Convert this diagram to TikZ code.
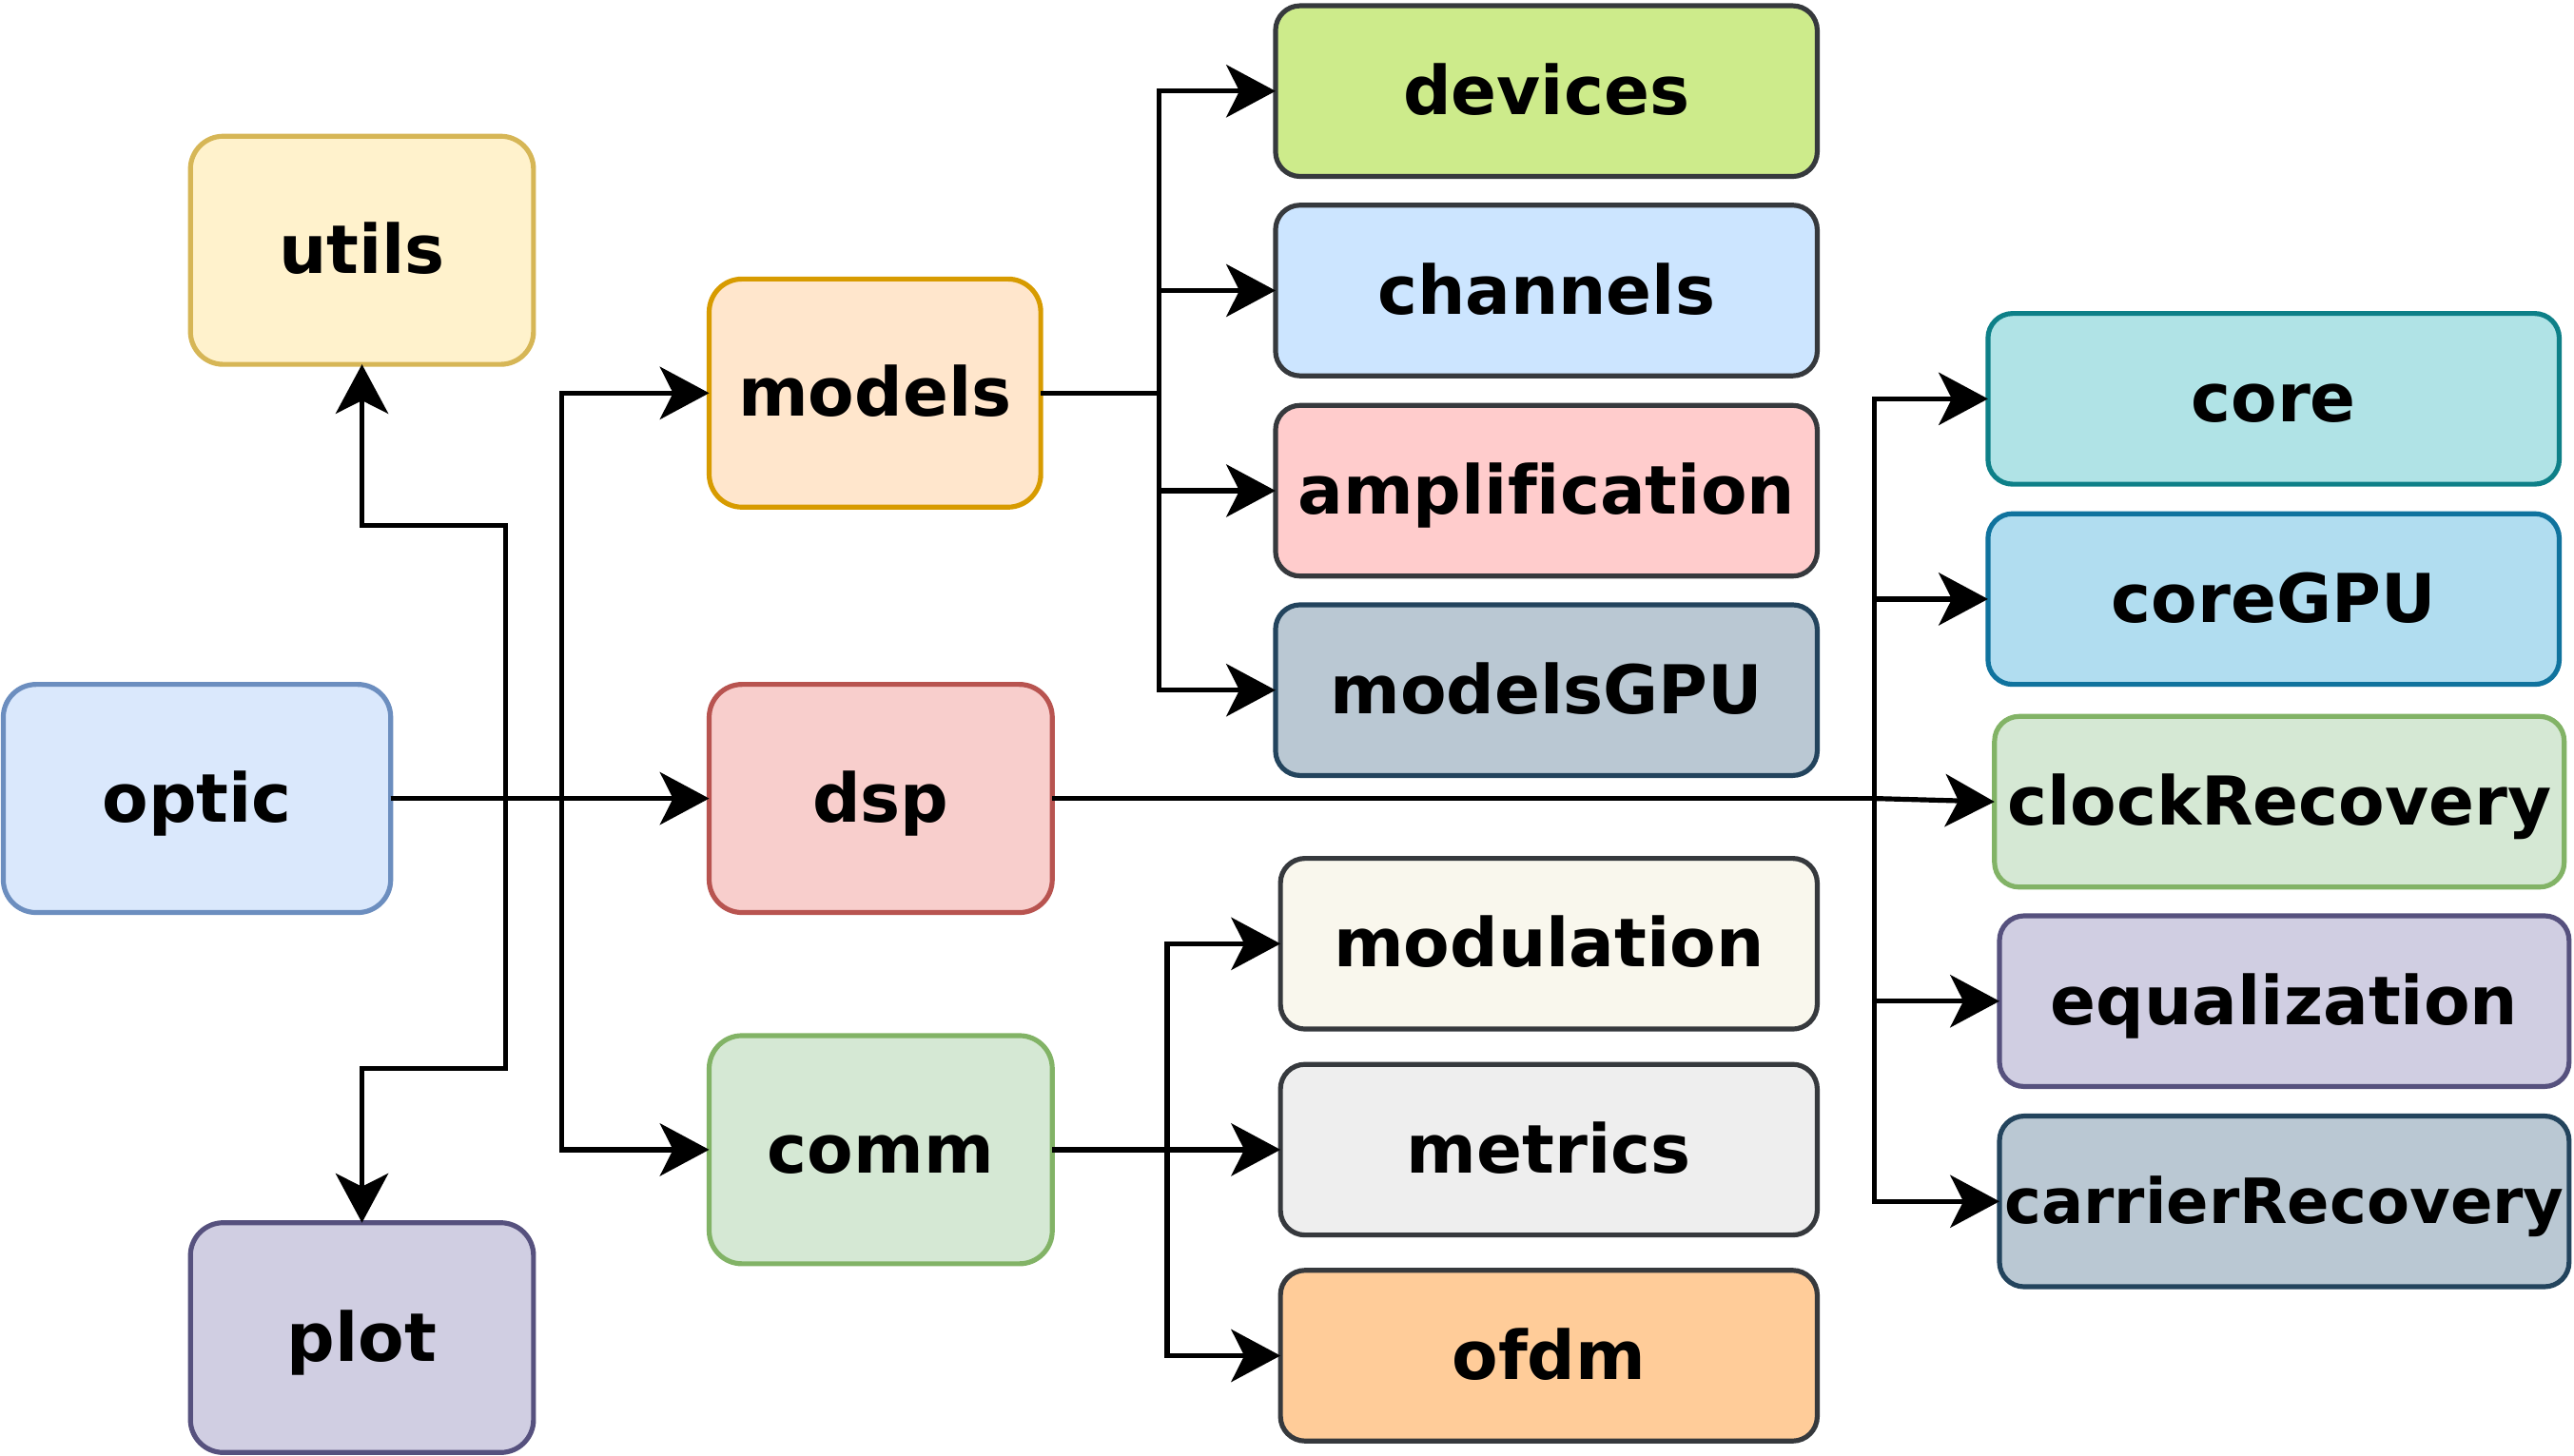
\documentclass[tikz,border=0pt]{standalone}
\usepackage{fontspec}
\setmainfont[Ligatures=NoCommon]{DejaVu Sans}
\usetikzlibrary{arrows.meta}
\definecolor{utF}{HTML}{FFF2CC}\definecolor{utS}{HTML}{D6B656}
\definecolor{opF}{HTML}{DAE8FC}\definecolor{opS}{HTML}{6C8EBF}
\definecolor{plF}{HTML}{D0CEE2}\definecolor{plS}{HTML}{56517E}
\definecolor{moF}{HTML}{FFE6CC}\definecolor{moS}{HTML}{D79B00}
\definecolor{dsF}{HTML}{F8CECC}\definecolor{dsS}{HTML}{B85450}
\definecolor{coF}{HTML}{D5E8D4}\definecolor{coS}{HTML}{82B366}
\definecolor{dkS}{HTML}{36393D}
\definecolor{dvF}{HTML}{CDEB8B}
\definecolor{chF}{HTML}{CCE5FF}
\definecolor{amF}{HTML}{FFCCCC}
\definecolor{gpF}{HTML}{BAC8D3}\definecolor{gpS}{HTML}{23445D}
\definecolor{mdF}{HTML}{F9F7ED}
\definecolor{mtF}{HTML}{EEEEEE}
\definecolor{ofF}{HTML}{FFCC99}
\definecolor{crF}{HTML}{B0E3E6}\definecolor{crS}{HTML}{0E8088}
\definecolor{cgF}{HTML}{B1DDF0}\definecolor{cgS}{HTML}{10739E}
\begin{document}
\begin{tikzpicture}[x=1pt,y=-1pt,
  box/.style={draw, line width=3pt, inner sep=0pt, outer sep=0pt,
    font=\fontsize{41}{48}\selectfont\bfseries, text height=38pt, text depth=9.5pt},
  smallfont/.style={font=\fontsize{38}{45}\selectfont\bfseries, text height=35.2pt, text depth=8.8pt},
  big/.style={box, minimum width=209pt, minimum height=139pt, rounded corners=20pt},
  wide/.style={box, minimum width=330pt, minimum height=104pt, rounded corners=15pt},
  wider/.style={box, minimum width=348pt, minimum height=104pt, rounded corners=15pt},
  arr/.style={draw, line width=3pt, -{Stealth[length=30pt, width=32pt, inset=8pt]}},
  ln/.style={draw, line width=3pt}]
\useasboundingbox (0,0) rectangle (1568,886.6);
% left column
\node[big, fill=utF, draw=utS] (utils) at (220.5,152.5) {utils};
\node[big, fill=opF, draw=opS, minimum width=236pt] (optic) at (120,486.5) {optic};
\node[big, fill=plF, draw=plS, minimum height=140pt] (plot) at (220.5,815) {plot};
% middle column
\node[big, fill=moF, draw=moS, minimum width=202pt] (models) at (533,239.5) {models};
\node[big, fill=dsF, draw=dsS] (dsp) at (536.5,486.5) {dsp};
\node[big, fill=coF, draw=coS] (comm) at (536.5,700.5) {comm};
% models children
\node[wide, fill=dvF, draw=dkS] (devices) at (942,55.5) {devices};
\node[wide, fill=chF, draw=dkS] (channels) at (942,177) {channels};
\node[wide, fill=amF, draw=dkS] (amplification) at (942,299) {amplification};
\node[wide, fill=gpF, draw=gpS] (modelsGPU) at (942,420.5) {modelsGPU};
% comm children
\node[wide, fill=mdF, draw=dkS, minimum width=327pt] (modulation) at (943.5,575) {modulation};
\node[wide, fill=mtF, draw=dkS, minimum width=327pt] (metrics) at (943.5,700.5) {metrics};
\node[wide, fill=ofF, draw=dkS, minimum width=327pt] (ofdm) at (943.5,826) {ofdm};
% dsp children
\node[wider, fill=crF, draw=crS] (core) at (1385,243) {core};
\node[wider, fill=cgF, draw=cgS] (coreGPU) at (1385,365) {coreGPU};
\node[wider, fill=coF, draw=coS, minimum width=347pt] (clockRecovery) at (1388.5,488.5) {clockRecovery};
\node[wider, fill=plF, draw=plS, minimum width=347pt] (equalization) at (1391.5,610) {equalization};
\node[wider, smallfont, fill=gpF, draw=gpS, minimum width=347pt] (carrierRecovery) at (1391.5,732) {carrierRecovery};
% junction coordinates
\coordinate (ju) at (308,320);
\coordinate (jp) at (308,651);
\coordinate (jm) at (342,486.5);
\coordinate (jmod) at (706,239.5);
\coordinate (jcom) at (711,700.5);
\coordinate (jdsp) at (1142,486.5);
% optic connections
\draw[arr] (optic.east) -- (dsp.west);
\draw[arr] (optic.east) -| (ju) -| (utils.south);
\draw[arr] (optic.east) -| (jp) -| (plot.north);
\draw[arr] (jm) |- (models.west);
\draw[arr] (jm) |- (comm.west);
% models connections
\draw[ln] (models.east) -- (jmod);
\draw[arr] (jmod) |- (devices.west);
\draw[arr] (jmod) |- (channels.west);
\draw[arr] (jmod) |- (amplification.west);
\draw[arr] (jmod) |- (modelsGPU.west);
% comm connections
\draw[ln] (comm.east) -- (jcom);
\draw[arr] (jcom) |- (modulation.west);
\draw[arr] (jcom) -- (metrics.west);
\draw[arr] (jcom) |- (ofdm.west);
% dsp connections
\draw[ln] (dsp.east) -- (jdsp);
\draw[arr] (jdsp) |- (core.west);
\draw[arr] (jdsp) |- (coreGPU.west);
\draw[arr] (jdsp) -- (clockRecovery.west);
\draw[arr] (jdsp) |- (equalization.west);
\draw[arr] (jdsp) |- (carrierRecovery.west);
\end{tikzpicture}
\end{document}
